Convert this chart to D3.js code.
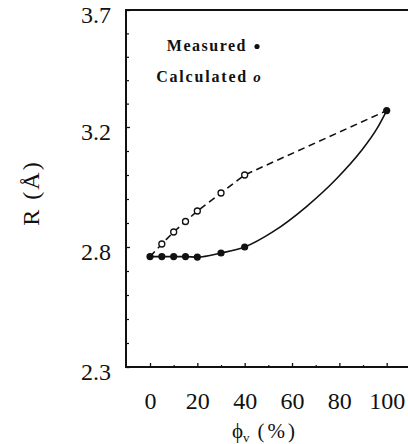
<!DOCTYPE html>
<html>
<head>
<meta charset="utf-8">
<script src="https://cdn.jsdelivr.net/npm/d3@7"></script>
<style>
body { margin: 0; background: #fff; }
svg text { font-family: "Liberation Serif", "DejaVu Serif", serif !important; fill: #111; }
</style>
</head>
<body>
<script>

// values
const measPhi = [0, 5, 10, 15, 20, 30, 40, 100];
const measR = [2.76, 2.76, 2.76, 2.76, 2.758, 2.775, 2.80, 3.27];

const calcPhi = [5, 10, 15, 20, 30, 40];
const calcR = [2.81, 2.85, 2.885, 2.92, 2.98, 3.04];

// dashed line: calculated values joined to the measured end points
const dashPhi = [0, 5, 10, 15, 20, 30, 40, 100];
const dashR = [2.76, 2.81, 2.85, 2.885, 2.92, 2.98, 3.04, 3.27];

// solid line drawn through the measured points and up to 100 %
const trendPhi = [0, 5, 10, 15, 20, 30, 40, 52, 66, 79, 89, 96, 100];
const trendR = [2.76, 2.76, 2.76, 2.76, 2.758, 2.775, 2.80, 2.851, 2.934, 3.029, 3.118, 3.196, 3.27];

const xTicks = [0, 20, 40, 60, 80, 100];
const xMinor = [10, 30, 50, 70, 90];
const yTicks = [2.3, 2.8, 3.2, 3.7];
const yMinor = [2.4, 2.5, 2.6, 2.7, 2.88, 2.96, 3.04, 3.12, 3.3, 3.4, 3.5, 3.6];

const W = 408, H = 444;
const plotLeft = 126, plotRight = 411;

const svg = d3.select("body").append("svg").attr('width', W).attr('height', H);

const x = d3.scaleLinear().domain([0, 100]).range([150, 386.7]);
// the printed axis has equally spaced ticks at 2.3, 2.8, 3.2, 3.7
const y = d3.scaleLinear().domain(yTicks).range([367, 247, 127, 10]);

const plotTop = y(3.7), plotBottom = y(2.3);

// frame
svg.append('path')
    .attr('d', `M${plotRight},${plotTop}H${plotLeft}V${plotBottom}H${plotRight}`)
    .attr('fill', 'none').attr('stroke', '#111').attr('stroke-width', 2);

// x axis
const gx = svg.append('g').attr('transform', `translate(0,${plotBottom})`)
    .call(d3.axisBottom(x).tickValues(xTicks).tickSizeInner(-4).tickSizeOuter(0).tickPadding(25))
    .attr('font-family', null).attr('font-size', 24);
gx.select('.domain').remove();
gx.selectAll('text').attr('fill', '#111');
gx.selectAll('line').attr('stroke', '#111').attr('stroke-width', 1.3);

const gxm = svg.append('g').attr('transform', `translate(0,${plotBottom})`)
    .call(d3.axisBottom(x).tickValues(xMinor).tickSizeInner(-2).tickSizeOuter(0).tickFormat(''));
gxm.select('.domain').remove();
gxm.selectAll('line').attr('stroke', '#111').attr('stroke-width', 1.2);

// y axis
const gy = svg.append('g').attr('transform', `translate(${plotLeft},0)`)
    .call(d3.axisLeft(y).tickValues(yTicks).tickFormat(d3.format('.1f')).tickSizeInner(-4).tickSizeOuter(0).tickPadding(15))
    .attr('font-family', null).attr('font-size', 24);
gy.select('.domain').remove();
gy.selectAll('text').attr('fill', '#111').attr('dy', '0.5em');
gy.selectAll('line').attr('stroke', '#111').attr('stroke-width', 1.3);

const gym = svg.append('g').attr('transform', `translate(${plotLeft},0)`)
    .call(d3.axisLeft(y).tickValues(yMinor).tickSizeInner(-3).tickSizeOuter(0).tickFormat(''));
gym.select('.domain').remove();
gym.selectAll('line').attr('stroke', '#111').attr('stroke-width', 1.2);

// axis titles
svg.append('text')
    .attr('transform', 'translate(31,193) rotate(-90)')
    .attr('text-anchor', 'middle').attr('dominant-baseline', 'central')
    .style('font-size', '24px').style('letter-spacing', '2px')
    .text('R (Å)');

const xt = svg.append('text').attr('x', 232).attr('y', 438).style('font-size', '21px');
xt.append('tspan').text('ϕ');
xt.append('tspan').attr('dy', 4).style('font-size', '13px').text('v');
xt.append('tspan').attr('dy', -4).attr('dx', 8).style('letter-spacing', '3px').text('(%)');

// lines
const trend = d3.line().x((d, i) => x(trendPhi[i])).y((d, i) => y(trendR[i])).curve(d3.curveMonotoneX);
svg.append('path').datum(trendR).attr('d', trend)
    .attr('fill', 'none').attr('stroke', '#111').attr('stroke-width', 1.6);

const dash = d3.line().x((d, i) => x(dashPhi[i])).y((d, i) => y(dashR[i]));
svg.append('path').datum(dashR).attr('d', dash)
    .attr('fill', 'none').attr('stroke', '#111').attr('stroke-width', 1.6)
    .attr('stroke-dasharray', '7,4.5');

// points
svg.selectAll('circle.calc').data(calcR).enter().append('circle')
    .attr('class', 'calc')
    .attr('cx', (d, i) => x(calcPhi[i]))
    .attr('cy', (d) => y(d))
    .attr('r', 3)
    .style('fill', '#fff').style('stroke', '#111').style('stroke-width', 1.3);

svg.selectAll('circle.meas').data(measR).enter().append('circle')
    .attr('class', 'meas')
    .attr('cx', (d, i) => x(measPhi[i]))
    .attr('cy', (d) => y(d))
    .attr('r', 3.6)
    .style('fill', '#111');

// legend
svg.append('text').attr('x', 247).attr('y', 51).attr('text-anchor', 'end')
    .style('font-size', '16px').style('font-weight', 'bold').style('letter-spacing', '1.5px')
    .text('Measured');
svg.append('circle').attr('cx', 257).attr('cy', 46.5).attr('r', 2.6).style('fill', '#111');

svg.append('text').attr('x', 248).attr('y', 82).attr('text-anchor', 'end')
    .style('font-size', '16px').style('font-weight', 'bold').style('letter-spacing', '1.8px')
    .text('Calculated');
svg.append('text').attr('x', 257).attr('y', 82).attr('text-anchor', 'middle')
    .style('font-size', '15px').style('font-weight', 'bold').style('font-style', 'italic')
    .text('o');

</script>
</body>
</html>
